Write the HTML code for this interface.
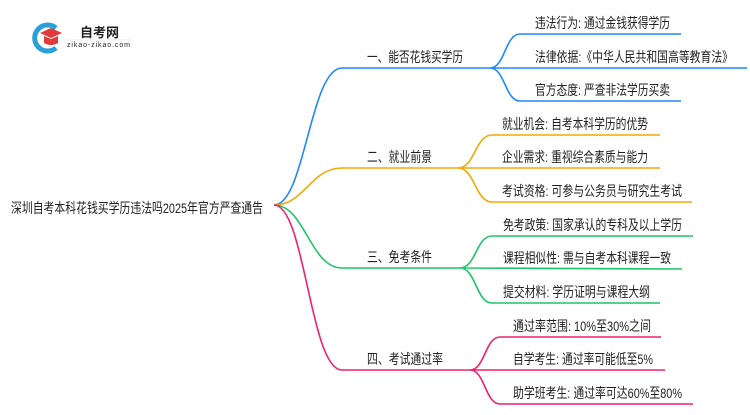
<!DOCTYPE html>
<html><head><meta charset="utf-8"><style>
body{margin:0;background:#fff;}
svg text{font-family:"Liberation Sans","Noto Sans CJK SC",sans-serif;fill:#222;}
</style></head><body>
<svg width="750" height="410" viewBox="0 0 750 410" xmlns="http://www.w3.org/2000/svg">
<rect width="750" height="410" fill="#fff"/>
<!-- logo -->
<path d="M56 28 A13 13 0 1 0 56 48" fill="none" stroke="#2a9fd8" stroke-width="5"/>
<path d="M40 33 L51 28 L62 33 L51 38 Z" fill="#e03a3a"/>
<path d="M44 36 L44 43 Q51 47 58 43 L58 36 L51 39 Z" fill="#e03a3a"/>
<text x="80" y="37" font-size="13" font-weight="bold" fill="#333">自考网</text>
<line x1="66" y1="40" x2="131" y2="40" stroke="#ddd" stroke-width="0.6"/>
<text x="67" y="47" font-size="7" fill="#777" textLength="63">zikao-zikao.com</text>
<g fill="none" stroke-width="1.6">
<path d="M274 205 C305 205 310 68 342 68 L490 68" stroke="#1e88ff"/>
<path d="M490 68 C505 68 505 34 520 34 L681 34 M490 68 L747 68 M490 68 C505 68 505 101 520 101 L681 101" stroke="#1e88ff"/>
<path d="M274 205 C305 205 310 168 342 168 L458 168" stroke="#f5a800"/>
<path d="M458 168 C475 168 475 135 492 135 L660 135 M458 168 L660 168 M458 168 C475 168 475 202 492 202 L692 202" stroke="#f5a800"/>
<path d="M274 205 C305 205 310 268 342 268 L460 268" stroke="#1ec46a"/>
<path d="M460 268 C476 268 476 236 492 236 L693 236 M460 268 L682 269 M460 268 C476 268 476 303 492 303 L660 303" stroke="#1ec46a"/>
<path d="M274 205 C305 205 310 370 342 370 L470 370" stroke="#f0216e"/>
<path d="M470 370 C485 370 485 337 500 337 L661 337 M470 370 L665 370 M470 370 C485 370 485 404 500 404 L693 404" stroke="#f0216e"/>
</g>
<g font-size="14" lengthAdjust="spacingAndGlyphs">
<text x="11" y="213" textLength="252" lengthAdjust="spacingAndGlyphs">深圳自考本科花钱买学历违法吗2025年官方严查通告</text>
<text x="367" y="62" textLength="96" lengthAdjust="spacingAndGlyphs">一、能否花钱买学历</text>
<text x="367" y="162" textLength="65" lengthAdjust="spacingAndGlyphs">二、就业前景</text>
<text x="367" y="262" textLength="65" lengthAdjust="spacingAndGlyphs">三、免考条件</text>
<text x="367" y="364" textLength="76" lengthAdjust="spacingAndGlyphs">四、考试通过率</text>
<text x="535" y="28" textLength="135" lengthAdjust="spacingAndGlyphs">违法行为: 通过金钱获得学历</text>
<text x="535" y="62" textLength="198" lengthAdjust="spacingAndGlyphs">法律依据:《中华人民共和国高等教育法》</text>
<text x="535" y="95" textLength="135" lengthAdjust="spacingAndGlyphs">官方态度: 严查非法学历买卖</text>
<text x="502" y="129" textLength="146" lengthAdjust="spacingAndGlyphs">就业机会: 自考本科学历的优势</text>
<text x="502" y="162" textLength="146" lengthAdjust="spacingAndGlyphs">企业需求: 重视综合素质与能力</text>
<text x="502" y="196" textLength="180" lengthAdjust="spacingAndGlyphs">考试资格: 可参与公务员与研究生考试</text>
<text x="503" y="230" textLength="179" lengthAdjust="spacingAndGlyphs">免考政策: 国家承认的专科及以上学历</text>
<text x="503" y="263" textLength="168" lengthAdjust="spacingAndGlyphs">课程相似性: 需与自考本科课程一致</text>
<text x="503" y="297" textLength="147" lengthAdjust="spacingAndGlyphs">提交材料: 学历证明与课程大纲</text>
<text x="513" y="331" textLength="138" lengthAdjust="spacingAndGlyphs">通过率范围: 10%至30%之间</text>
<text x="513" y="364" textLength="140" lengthAdjust="spacingAndGlyphs">自学考生: 通过率可能低至5%</text>
<text x="513" y="398" textLength="169" lengthAdjust="spacingAndGlyphs">助学班考生: 通过率可达60%至80%</text>
</g>
</svg>
</body></html>
